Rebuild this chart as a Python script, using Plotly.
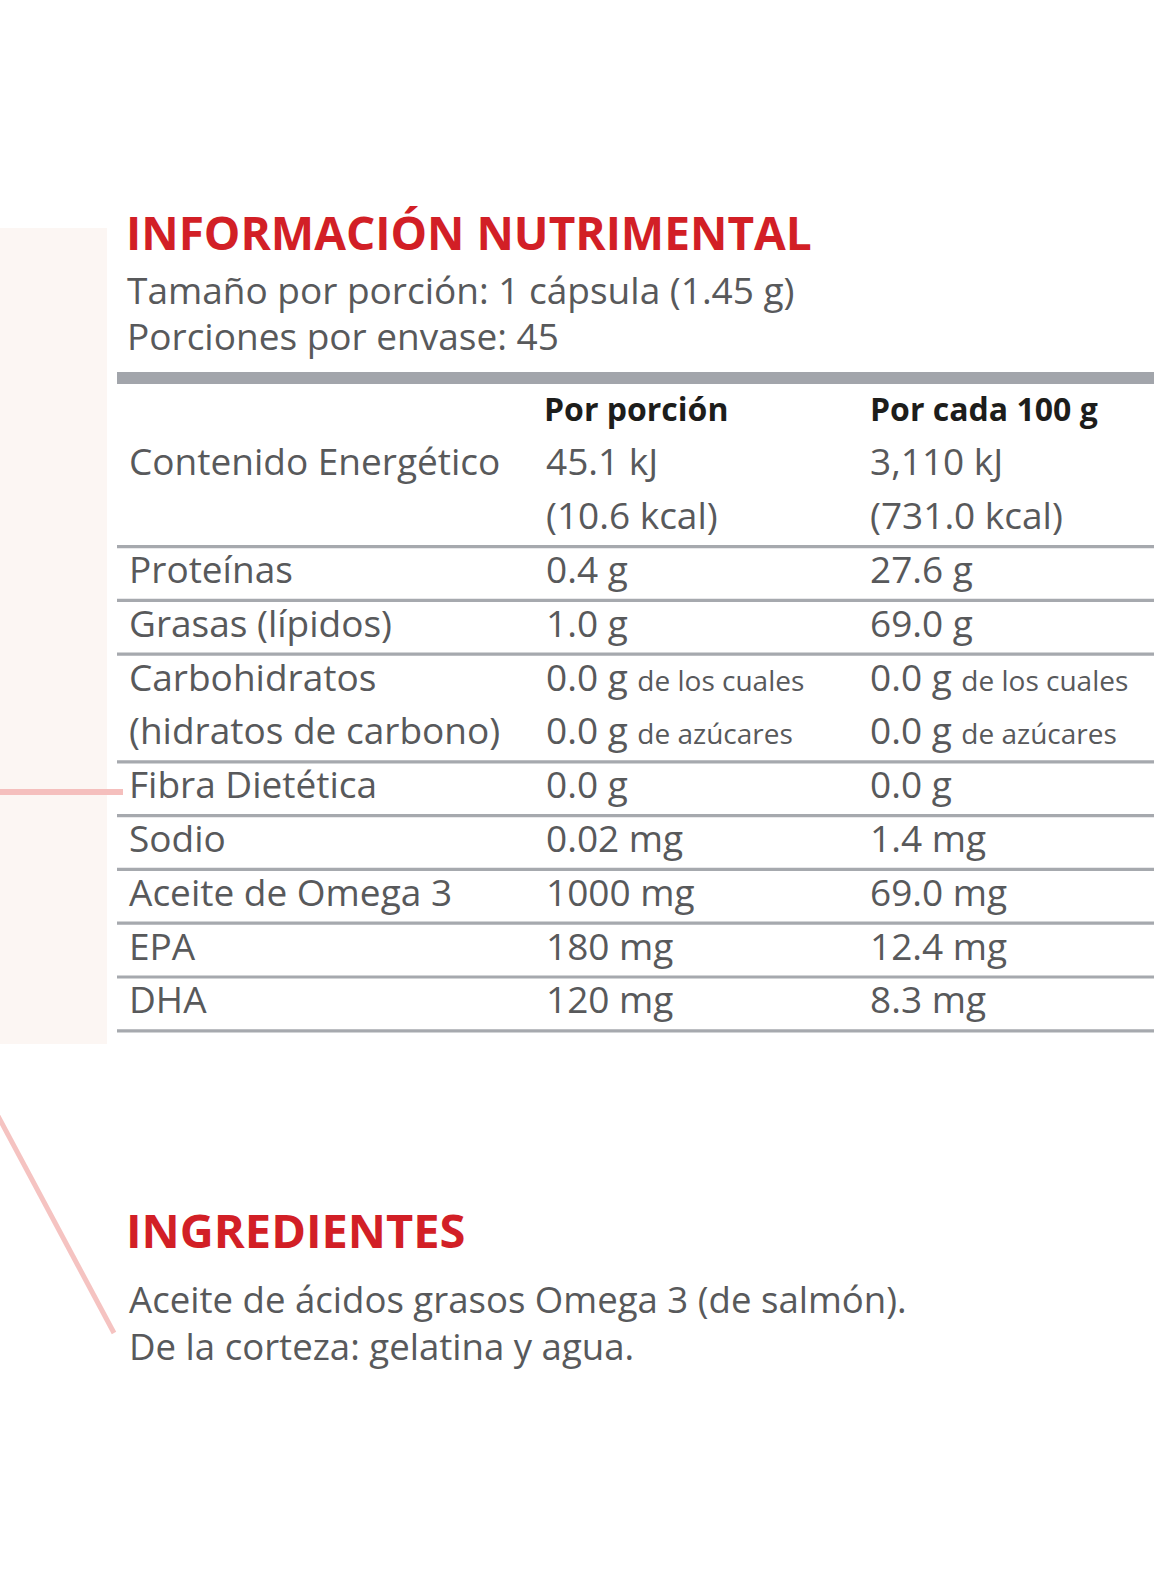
import plotly.graph_objects as go

# ---------------- data ----------------
titulo = "INFORMACIÓN NUTRIMENTAL"
subtitulos = ["Tamaño por porción: 1 cápsula (1.45 g)", "Porciones por envase: 45"]
encabezados = ["Por porción", "Por cada 100 g"]
nutrientes = [["Contenido Energético"], ["Proteínas"], ["Grasas (lípidos)"],
              ["Carbohidratos", "(hidratos de carbono)"], ["Fibra Dietética"], ["Sodio"],
              ["Aceite de Omega 3"], ["EPA"], ["DHA"]]
por_porcion = [["45.1 kJ", "(10.6 kcal)"], ["0.4 g"], ["1.0 g"], ["0.0 g", "0.0 g"],
               ["0.0 g"], ["0.02 mg"], ["1000 mg"], ["180 mg"], ["120 mg"]]
por_100g = [["3,110 kJ", "(731.0 kcal)"], ["27.6 g"], ["69.0 g"], ["0.0 g", "0.0 g"],
            ["0.0 g"], ["1.4 mg"], ["69.0 mg"], ["12.4 mg"], ["8.3 mg"]]
notas = [[], [], [], ["de los cuales", "de azúcares"], [], [], [], [], []]
ingredientes_titulo = "INGREDIENTES"
ingredientes = ["Aceite de ácidos grasos Omega 3 (de salmón).", "De la corteza: gelatina y agua."]

# ---------------- layout constants ----------------
W, H = 1169, 1583
FONT = "Open Sans"
RED = "#d21f26"
GRAY = "#58595b"
LINE = "#a6a9ae"
X_LABEL, X_C1, X_C2 = 129, 544, 868
Y_HEAD, STEP = 408, 53.8
TL, TR = 117, 1154
BODY = 37
NOTE = 28

annotations = []
shapes = []


def txt(x, y, s, size, color=GRAY, bold=False):
    annotations.append(dict(
        x=x, y=y, xref="x", yref="y", text=("<b>%s</b>" % s) if bold else s,
        showarrow=False, xanchor="left", yanchor="middle",
        font=dict(family=FONT, size=size, color=color)))


def hline(y, x0, x1, color, width):
    shapes.append(dict(type="line", xref="x", yref="y", x0=x0, x1=x1, y0=y, y1=y,
                       line=dict(color=color, width=width)))


# left pale panel
shapes.append(dict(type="rect", xref="x", yref="y", x0=0, x1=107, y0=228, y1=1044,
                   fillcolor="#fcf6f3", line=dict(width=0), layer="below"))
# pink decorative lines
hline(792, 0, 123, "#f5bfbd", 6)
shapes.append(dict(type="line", xref="x", yref="y", x0=-10, y0=1101, x1=114, y1=1333,
                   line=dict(color="#f5c3c1", width=5)))

# titles
txt(124, 232, titulo, 46, RED, bold=True)
txt(125, 289, subtitulos[0], BODY)
txt(125, 335, subtitulos[1], BODY)

# thick top bar
shapes.append(dict(type="rect", xref="x", yref="y", x0=TL, x1=TR, y0=372, y1=384,
                   fillcolor="#a2a5ab", line=dict(width=0)))

# header
txt(X_C1 - 2, Y_HEAD, encabezados[0], 32, "#1d1d1b", bold=True)
txt(X_C2, Y_HEAD, encabezados[1], 32, "#1d1d1b", bold=True)

k = 1
for r in range(len(nutrientes)):
    n = max(len(nutrientes[r]), len(por_porcion[r]))
    for j in range(n):
        y = Y_HEAD - 1 + STEP * (k + j)
        if j < len(nutrientes[r]):
            txt(X_LABEL - 2, y, nutrientes[r][j], BODY)
        note = notas[r][j] if j < len(notas[r]) else ""
        suf = (" <span style='font-size:%dpx'>%s</span>" % (NOTE, note)) if note else ""
        txt(X_C1, y, por_porcion[r][j] + suf, BODY)
        txt(X_C2, y, por_100g[r][j] + suf, BODY)
    k += n
    hline(Y_HEAD - 1 + STEP * (k - 1) + 32, TL, TR, LINE, 3.2)

# ingredients
txt(124, 1230, ingredientes_titulo, 47, RED, bold=True)
txt(127, 1299, ingredientes[0], 36.6)
txt(127, 1346, ingredientes[1], 36.6)

# anchor trace so axes exist
fig = go.Figure(go.Scatter(x=[0], y=[0], mode="markers", marker=dict(opacity=0),
                           hoverinfo="skip", showlegend=False))
fig.update_layout(
    width=W, height=H,
    margin=dict(l=0, r=0, t=0, b=0, pad=0),
    paper_bgcolor="white", plot_bgcolor="white",
    xaxis=dict(range=[0, W], visible=False, fixedrange=True),
    yaxis=dict(range=[H, 0], visible=False, fixedrange=True),
    annotations=annotations, shapes=shapes, showlegend=False,
)
fig.write_html("out.html", config={"displayModeBar": False},
               post_script="document.body.style.margin='0';document.body.style.overflow='hidden';")
